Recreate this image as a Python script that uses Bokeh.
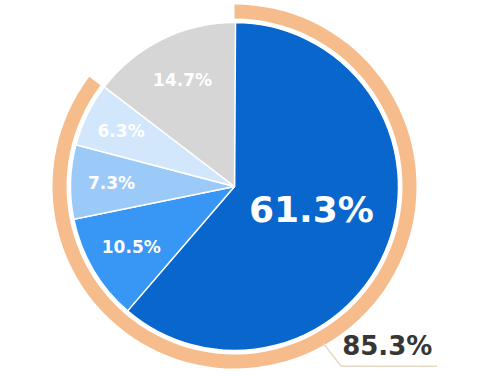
import numpy as np
from bokeh.plotting import figure
from bokeh.models import Range1d, ColumnDataSource
from bokeh.core.properties import value
from bokeh.embed import file_html
from bokeh.resources import INLINE

# ---- data ----
shares = [61.3, 10.5, 7.3, 6.3, 14.7]
labels = ["61.3%", "10.5%", "7.3%", "6.3%", "14.7%"]
colors = ["#0866CC", "#3896F4", "#9CCAF8", "#D2E7FC", "#D6D6D6"]
highlight_share = 85.3
highlight_label = "85.3%"

# ---- layout / style ----
W, H = 501, 376
cx, cy = 234, 376 - 186
R = 164
ring_in, ring_out = 168, 182
label_r = [0.50, 0.73, 0.75, 0.77, 0.72]
label_size = ["36px", "17px", "17px", "17px", "17px"]

p = figure(width=W, height=H, output_backend="svg", toolbar_location=None,
           x_range=Range1d(0, W), y_range=Range1d(0, H), min_border=0)
p.axis.visible = False
p.grid.visible = False
p.outline_line_color = None
p.background_fill_color = "white"
p.border_fill_color = "white"

cum = np.cumsum([0] + shares)
start = np.pi / 2 - 2 * np.pi * cum[:-1] / 100
end = np.pi / 2 - 2 * np.pi * cum[1:] / 100
mid = (start + end) / 2

src = ColumnDataSource(dict(start=start, end=end, color=colors))
p.wedge(x=cx, y=cy, radius=R, start_angle="start", end_angle="end",
        direction="clock", fill_color="color", line_color="white",
        line_width=1.5, source=src)

# highlight ring
p.annular_wedge(x=cx, y=cy, inner_radius=ring_in, outer_radius=ring_out,
                start_angle=np.pi / 2,
                end_angle=np.pi / 2 - 2 * np.pi * highlight_share / 100,
                direction="clock", fill_color="#F6BC8C", line_color=None)

# slice labels
lx = cx + np.array(label_r) * R * np.cos(mid)
ly = cy + np.array(label_r) * R * np.sin(mid)
ly[0] += 6
lsrc = ColumnDataSource(dict(x=lx, y=ly, t=labels, s=label_size))
p.text(x="x", y="y", text="t", text_font_size="s", source=lsrc,
       text_font=value("DejaVu Sans"), text_font_style="bold",
       text_color="white", text_align="center", text_baseline="middle")

# leader line for highlight total
a = np.deg2rad(-60.5)
x0, y0 = cx + 180 * np.cos(a), cy + 180 * np.sin(a)
x1, y1 = x0 + 18, y0 - 23
x2 = x1 + 96
p.line([x0, x1, x2], [y0, y1, y1], line_color="#E6D8C4", line_width=1.5)
p.text(x=[x1 + 1], y=[y1 + 5], text=[highlight_label],
       text_font=value("DejaVu Sans"), text_font_size="26px",
       text_font_style="bold",
       text_color="#363636", text_align="left", text_baseline="bottom")

open("out.html", "w").write(file_html(p, INLINE))
